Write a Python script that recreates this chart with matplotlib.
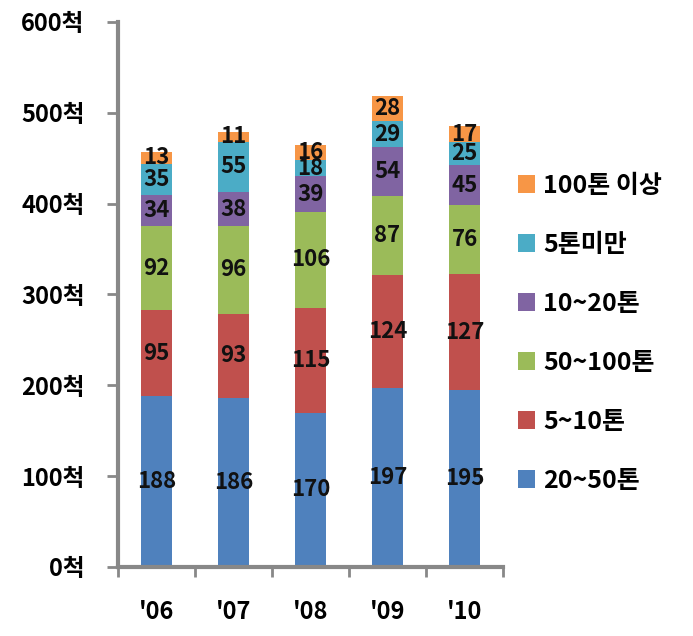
import matplotlib
matplotlib.use("Agg")
import matplotlib.pyplot as plt
import numpy as np
from matplotlib.patches import Patch

plt.rcParams['font.family'] = ['Noto Sans CJK KR', 'DejaVu Sans']

years = ["'06", "'07", "'08", "'09", "'10"]
series_names = ["20~50톤", "5~10톤", "50~100톤", "10~20톤", "5톤미만", "100톤 이상"]
v_20_50 = [188, 186, 170, 197, 195]
v_5_10 = [95, 93, 115, 124, 127]
v_50_100 = [92, 96, 106, 87, 76]
v_10_20 = [34, 38, 39, 54, 45]
v_lt5 = [35, 55, 18, 29, 25]
v_ge100 = [13, 11, 16, 28, 17]
series_values = [v_20_50, v_5_10, v_50_100, v_10_20, v_lt5, v_ge100]
colors = ["#4F81BD", "#C0504D", "#9BBB59", "#8064A2", "#4BACC6", "#F79646"]
yticks = [0, 100, 200, 300, 400, 500, 600]
ytick_labels = [f"{t}척" for t in yticks]

fig = plt.figure(figsize=(6.93, 6.36), dpi=100)
ax = fig.add_axes([0.170, 0.1085, 0.556, 0.857])

x = np.arange(len(years))
bottom = np.zeros(len(years))
handles = []
for name, vals, c in zip(series_names, series_values, colors):
    vals = np.array(vals)
    ax.bar(x, vals, width=0.41, bottom=bottom, color=c, linewidth=0)
    for xi, b, v in zip(x, bottom, vals):
        ax.text(xi, b + v / 2, str(v), ha='center', va='center',
                fontsize=16, fontweight='bold', color='#111111')
    bottom += vals
    handles.append(Patch(facecolor=c, label=name))

ax.set_xlim(-0.5, 4.5)
ax.set_ylim(0, 600)
ax.set_yticks(yticks)
ax.set_yticklabels(ytick_labels, fontsize=17, fontweight='bold')
ax.set_xticks(x)
ax.set_xticklabels(years, fontsize=17, fontweight='bold')
ax.set_xticks(np.arange(-0.5, 5.0, 1.0), minor=True)
ax.tick_params(axis='x', which='major', length=0, pad=24)
ax.tick_params(axis='x', which='minor', length=7, width=2, color='#888888', direction='out')
ax.tick_params(axis='y', which='major', length=8, width=2, color='#888888', pad=16)

for s in ['top', 'right']:
    ax.spines[s].set_visible(False)
for s in ['left', 'bottom']:
    ax.spines[s].set_color('#888888')
    ax.spines[s].set_linewidth(3)

fig.legend(handles=handles[::-1], loc='upper left', bbox_to_anchor=(0.715, 0.762),
           frameon=False, prop={'weight': 'bold', 'size': 18},
           handlelength=0.7, handleheight=0.7, handletextpad=0.3,
           labelspacing=1.4)

fig.savefig("out.png", dpi=100)
